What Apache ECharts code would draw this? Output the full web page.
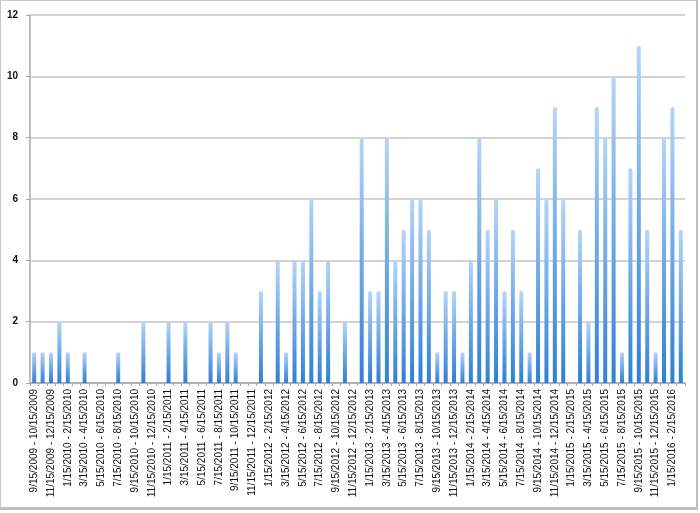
<!DOCTYPE html>
<html>
<head>
<meta charset="utf-8">
<script src="https://cdn.jsdelivr.net/npm/echarts@6/dist/echarts.min.js"></script>
<style>
html,body{margin:0;padding:0;background:#fff;}
#wrap{position:absolute;left:0;top:0;width:698px;height:510px;border:1px solid #c8c8c8;border-right:2px solid #bdbdbd;border-bottom:3px solid #bdbdbd;box-sizing:border-box;}
#chart{position:absolute;left:0;top:0;width:700px;height:513px;}
</style>
</head>
<body>
<div id="wrap"></div>
<div id="chart"></div>
<script>
const categories = [
"9/15/2009 - 10/15/2009","10/15/2009 - 11/15/2009","11/15/2009 - 12/15/2009","12/15/2009 - 1/15/2010",
"1/15/2010 - 2/15/2010","2/15/2010 - 3/15/2010","3/15/2010 - 4/15/2010","4/15/2010 - 5/15/2010",
"5/15/2010 - 6/15/2010","6/15/2010 - 7/15/2010","7/15/2010 - 8/15/2010","8/15/2010 - 9/15/2010",
"9/15/2010 - 10/15/2010","10/15/2010 - 11/15/2010","11/15/2010 - 12/15/2010","12/15/2010 - 1/15/2011",
"1/15/2011 - 2/15/2011","2/15/2011 - 3/15/2011","3/15/2011 - 4/15/2011","4/15/2011 - 5/15/2011",
"5/15/2011 - 6/15/2011","6/15/2011 - 7/15/2011","7/15/2011 - 8/15/2011","8/15/2011 - 9/15/2011",
"9/15/2011 - 10/15/2011","10/15/2011 - 11/15/2011","11/15/2011 - 12/15/2011","12/15/2011 - 1/15/2012",
"1/15/2012 - 2/15/2012","2/15/2012 - 3/15/2012","3/15/2012 - 4/15/2012","4/15/2012 - 5/15/2012",
"5/15/2012 - 6/15/2012","6/15/2012 - 7/15/2012","7/15/2012 - 8/15/2012","8/15/2012 - 9/15/2012",
"9/15/2012 - 10/15/2012","10/15/2012 - 11/15/2012","11/15/2012 - 12/15/2012","12/15/2012 - 1/15/2013",
"1/15/2013 - 2/15/2013","2/15/2013 - 3/15/2013","3/15/2013 - 4/15/2013","4/15/2013 - 5/15/2013",
"5/15/2013 - 6/15/2013","6/15/2013 - 7/15/2013","7/15/2013 - 8/15/2013","8/15/2013 - 9/15/2013",
"9/15/2013 - 10/15/2013","10/15/2013 - 11/15/2013","11/15/2013 - 12/15/2013","12/15/2013 - 1/15/2014",
"1/15/2014 - 2/15/2014","2/15/2014 - 3/15/2014","3/15/2014 - 4/15/2014","4/15/2014 - 5/15/2014",
"5/15/2014 - 6/15/2014","6/15/2014 - 7/15/2014","7/15/2014 - 8/15/2014","8/15/2014 - 9/15/2014",
"9/15/2014 - 10/15/2014","10/15/2014 - 11/15/2014","11/15/2014 - 12/15/2014","12/15/2014 - 1/15/2015",
"1/15/2015 - 2/15/2015","2/15/2015 - 3/15/2015","3/15/2015 - 4/15/2015","4/15/2015 - 5/15/2015",
"5/15/2015 - 6/15/2015","6/15/2015 - 7/15/2015","7/15/2015 - 8/15/2015","8/15/2015 - 9/15/2015",
"9/15/2015 - 10/15/2015","10/15/2015 - 11/15/2015","11/15/2015 - 12/15/2015","12/15/2015 - 1/15/2016",
"1/15/2016 - 2/15/2016","2/15/2016 - 3/15/2016"
];
const counts = [
1,1,1,2,1,0,1,0,0,0,1,0,
0,2,0,0,2,0,2,0,0,2,1,2,
1,0,0,3,0,4,1,4,4,6,3,4,
0,2,0,8,3,3,8,4,5,6,6,5,
1,3,3,1,4,8,5,6,3,5,3,1,
7,6,9,6,0,5,2,9,8,10,1,7,
11,5,1,8,9,5
];
const yTicks = [0,2,4,6,8,10,12];

const chart = echarts.init(document.getElementById('chart'), null, {renderer:'canvas'});
chart.setOption({
  animation:false,
  backgroundColor:'transparent',
  grid:{left:30,right:15,top:15,bottom:130,containLabel:false},
  xAxis:{
    type:'category',
    data:categories,
    boundaryGap:true,
    axisLine:{show:true,lineStyle:{color:'#a8a8a8',width:1.5}},
    axisTick:{show:true,alignWithLabel:false,interval:0,length:3,lineStyle:{color:'#a8a8a8'}},
    axisLabel:{interval:1,rotate:90,margin:6,fontSize:10,color:'#111',fontFamily:'Liberation Sans, Arial, sans-serif'},
    splitLine:{show:false}
  },
  yAxis:{
    type:'value',
    min:yTicks[0],max:yTicks[yTicks.length-1],interval:2,
    axisLine:{show:true,lineStyle:{color:'#a8a8a8',width:1.5}},
    axisTick:{show:true,length:4,lineStyle:{color:'#a8a8a8'}},
    axisLabel:{margin:12,fontSize:10,color:'#111',fontWeight:'bold',fontFamily:'Liberation Sans, Arial, sans-serif'},
    splitLine:{show:true,lineStyle:{color:'#c4c4c4',width:1.5}}
  },
  series:[{
    type:'bar',
    data:counts,
    barWidth:4,
    itemStyle:{
      borderRadius:[2,2,0,0],
      color:new echarts.graphic.LinearGradient(0,0,0,1,[
        {offset:0,color:'#b4d5f8'},
        {offset:1,color:'#2e7fd6'}
      ])
    }
  }]
});
</script>
</body>
</html>
